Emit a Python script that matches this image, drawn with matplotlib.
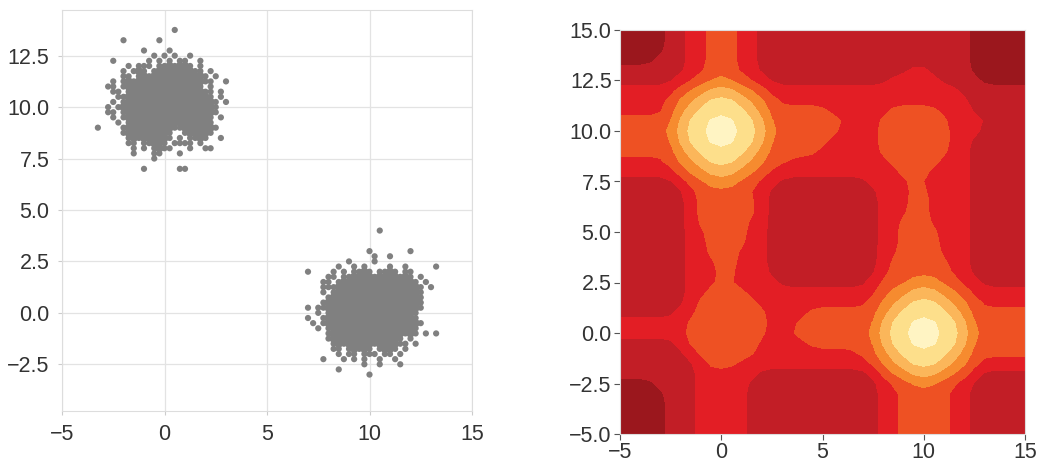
import numpy as np
import matplotlib
matplotlib.use("Agg")
import matplotlib.pyplot as plt

plt.rcParams['font.family'] = ['Liberation Sans', 'DejaVu Sans']
plt.rcParams['font.size'] = 15.5

# --- left panel: the two sample clouds on a 0.25 grid ('#' = one dot) ---
cell = 0.25
cloud_a_origin = (-3.5, 14.0)   # x of first column, y of first row
cloud_a_rows = [
    ".............................",
    "................#............",
    ".............................",
    "......#......#...............",
    ".............................",
    "..........#....#.............",
    "............#.#.#..#.........",
    "....#......#.#.#.##..#.......",
    ".......#.###.#######.#.......",
    "......#.###.##########.#.....",
    "......##.##############.#....",
    "....#.##################..#..",
    "...##.################.#.....",
    "....##.#################.#...",
    ".....###################.#...",
    "....#.###################.#..",
    "...#.####################....",
    "...##.###################....",
    "....#.##################.#...",
    ".....#.#################.....",
    ".#....###################....",
    "......##########..######.....",
    ".......#########.#.####..#...",
    ".......##.#####.####.#.......",
    "........#.#.####...#..##.....",
    "........#...##...#...........",
    "............#................",
    ".............................",
    "..........#......##..........",
    ".............................",
]
cloud_b_origin = (6.5, 4.25)
cloud_b_rows = [
    ".............................",
    "................#............",
    ".............................",
    ".............................",
    ".............................",
    "..............#.......#......",
    "...............#..#..........",
    "..........#....#.............",
    "........#..#.#....#..#.....#.",
    "..#....#.#.####.####.##......",
    "......##.##############.#....",
    ".....##.################.#...",
    ".....####################.#..",
    ".....#.##################....",
    "......###################....",
    ".....####################....",
    "..#.#####################....",
    "....#.##################.....",
    "..#..###################.....",
    "...#.####################....",
    "....#.##################.....",
    "......##################.#.#.",
    "......###############.#......",
    ".......###############.#.....",
    ".......##.#####.####.#.......",
    "........#.##.###.##.#........",
    ".....#...#.#.#..#..#.........",
    ".............#..#...#........",
    "........#....................",
    "..............#..............",
    ".............................",
]

# --- right panel: filled-contour level index read on a 0.5 grid (x -5..15, y 15..-5) ---
grid_x = np.linspace(-5, 15, 41)
grid_y = np.linspace(15, -5, 41)
level_rows = [
    "00000 11223 33221 11111 11111 11111 11111 00000 0",
    "00000 11223 33221 11111 11111 11111 11111 00000 0",
    "00000 11223 33221 11111 11111 11111 11111 00000 0",
    "00001 11223 33221 11111 11111 11111 11111 00000 0",
    "11111 11223 33221 11111 11111 11112 21111 00000 0",
    "11111 12233 43322 11111 11111 11222 22111 10000 0",
    "22222 23445 55443 22222 22222 22222 22221 11111 1",
    "22222 34456 66544 32222 22222 22222 22222 11111 1",
    "22222 34566 66654 33333 32222 22333 33222 11111 1",
    "33333 35667 77665 33333 33322 23333 33322 22111 1",
    "33333 45667 77665 43333 33222 23333 33322 21111 1",
    "33333 35667 77665 33333 32222 23333 33322 11111 1",
    "33333 34566 66654 33333 22222 23333 33322 11111 1",
    "22222 34456 66544 33222 22222 22333 33222 11111 1",
    "22222 23445 55443 22222 22222 22233 32222 11111 1",
    "11111 12334 44332 21111 11111 22223 22222 11111 1",
    "11111 11233 33322 11111 11111 12223 32222 11111 1",
    "11111 11233 33332 11111 11111 12223 32222 11111 1",
    "11111 11233 33332 11111 11111 12223 32222 11111 1",
    "11111 11233 33322 11111 11111 12233 32222 11111 1",
    "11111 11223 33322 11111 11111 12233 33222 11111 1",
    "11111 11223 33322 11111 11111 12233 33222 11111 1",
    "11111 11223 33222 11111 11111 12233 33222 11111 1",
    "11111 11222 33222 11111 11111 12333 33322 11111 1",
    "11111 11222 33222 11111 11111 12333 33322 11111 1",
    "11111 11222 32222 21111 11111 23334 44332 21111 1",
    "11111 11223 33322 22222 22222 23445 55443 22222 2",
    "11111 11233 33332 22222 22222 34456 66544 32222 2",
    "11111 12233 33333 22223 33333 34566 66654 33333 3",
    "22222 22333 33333 22233 33333 35667 77665 33333 3",
    "22222 22333 33333 22333 33333 45667 77665 43333 3",
    "11111 12333 33332 22223 33333 35667 77665 33333 3",
    "11111 11233 33332 22222 22223 34566 66654 33333 3",
    "11111 11123 33222 22222 22222 34456 66544 32222 2",
    "11111 11122 22221 11111 11111 13445 55443 21111 1",
    "00001 11122 22211 11111 11111 12233 43322 11111 1",
    "00000 11122 22211 11111 11111 12233 33322 11111 1",
    "00000 11122 22211 11111 11111 12233 33322 11111 1",
    "00000 11122 22211 11111 11111 12233 33322 11111 1",
    "00000 11122 22211 11111 11111 12233 33322 11111 1",
    "00000 11122 22211 11111 11111 12233 33322 11111 1",
]
level_colors = ['#9b171d', '#c21e26', '#e31e25', '#ee5123',
                '#f68b2f', '#fbb65a', '#fddf8b', '#fff4c3']


def cloud_points(rows, origin):
    # returns dot positions and whether each dot sits inside the dense core
    xs, ys, core = [], [], []
    for r, row in enumerate(rows):
        assert len(row) == 29, (r, len(row))
        for c, ch in enumerate(row):
            if ch != '#':
                continue
            xs.append(origin[0] + c * cell)
            ys.append(origin[1] - r * cell)
            inner = (0 < r < len(rows) - 1 and 0 < c < len(row) - 1
                     and row[c - 1] == '#' and row[c + 1] == '#'
                     and rows[r - 1][c] == '#' and rows[r + 1][c] == '#')
            core.append(inner)
    return xs, ys, core


def soften(z):
    # light [1,2,1] smoothing so the read-off level steps get rounded corners
    k = np.array([1.0, 2.0, 1.0]) / 4
    p = np.pad(z, 1, mode='edge')
    z = k[0] * p[:-2, 1:-1] + k[1] * p[1:-1, 1:-1] + k[2] * p[2:, 1:-1]
    p = np.pad(z, 1, mode='edge')
    return k[0] * p[1:-1, :-2] + k[1] * p[1:-1, 1:-1] + k[2] * p[1:-1, 2:]


xa, ya, ca = cloud_points(cloud_a_rows, cloud_a_origin)
xb, yb, cb = cloud_points(cloud_b_rows, cloud_b_origin)
px = np.array(xa + xb)
py = np.array(ya + yb)
inner = np.array(ca + cb)
sizes = np.where(inner, 36, 20)

Z = np.array([[int(ch) for ch in row.replace(' ', '')] for row in level_rows], dtype=float)
assert Z.shape == (41, 41), Z.shape
Z = soften(Z)

fig = plt.figure(figsize=(10.38, 4.63), dpi=100)

# --- left: scatter ---
ax1 = fig.add_axes([62 / 1038, 52 / 463, 410 / 1038, 401 / 463])
ax1.set_axisbelow(True)
ax1.grid(True, color='#e3e3e3', linewidth=0.9)
ax1.scatter(px, py, s=sizes, color='#808080', linewidths=0)
ax1.set_xlim(-5, 15)
ax1.set_ylim(-4.77, 14.72)
ax1.set_xticks([-5, 0, 5, 10, 15])
ax1.set_yticks([-2.5, 0, 2.5, 5, 7.5, 10, 12.5])
for sp in ax1.spines.values():
    sp.set_color('#dddddd')
ax1.tick_params(length=3, color='#cccccc', labelcolor='#333333', pad=6)

# --- right: filled contours ---
ax2 = fig.add_axes([620 / 1038, 29 / 463, 405 / 1038, 404 / 463])
ax2.contourf(grid_x, grid_y, Z, levels=np.arange(-0.5, 8), colors=level_colors)
ax2.set_xlim(-5, 15)
ax2.set_ylim(-5, 15)
ax2.set_xticks([-5, 0, 5, 10, 15])
ax2.set_yticks([-5, -2.5, 0, 2.5, 5, 7.5, 10, 12.5, 15])
for sp in ax2.spines.values():
    sp.set_color('#dddddd')
ax2.tick_params(length=4, color='#555555', labelcolor='#333333', pad=2)

fig.savefig("out.png", dpi=100)
